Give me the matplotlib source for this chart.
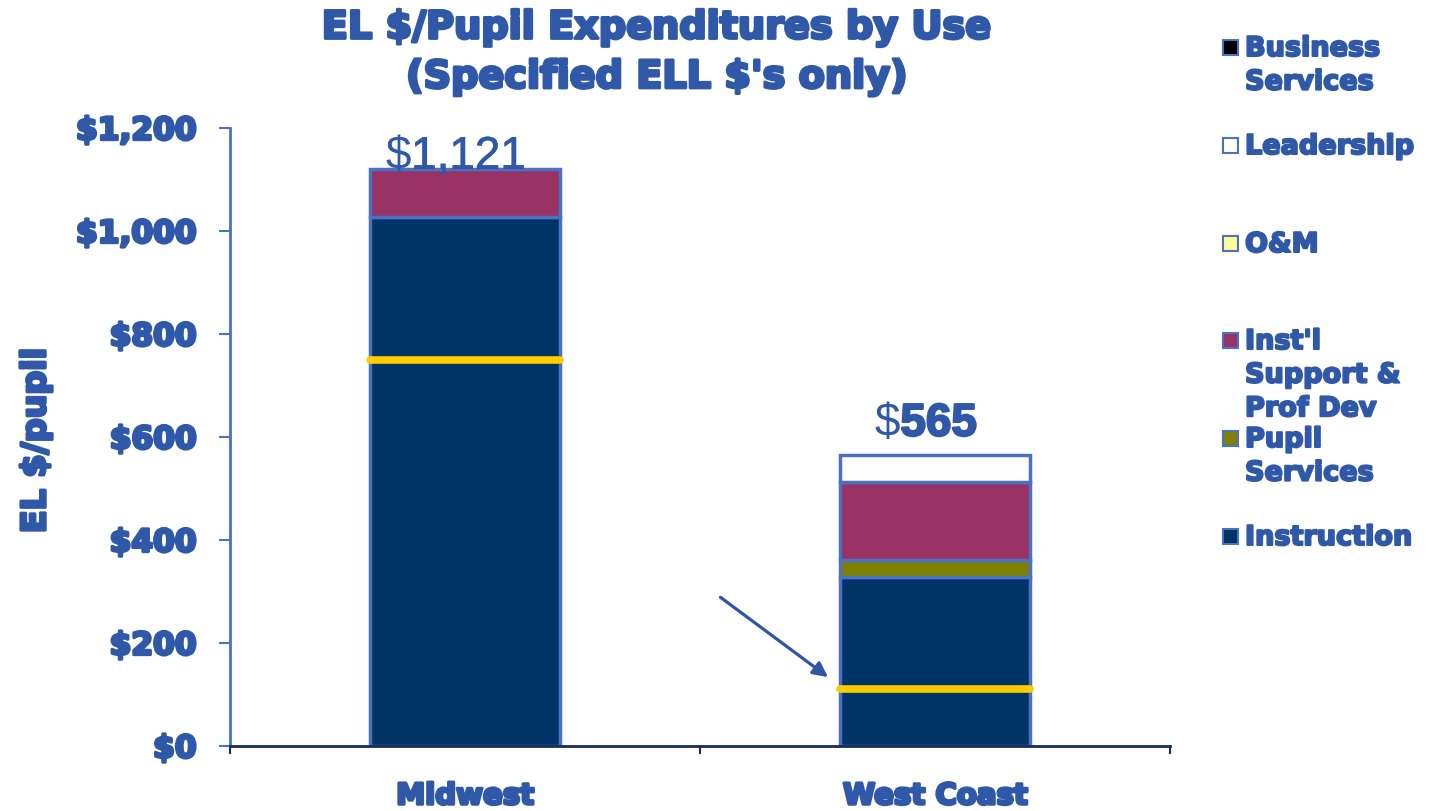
import matplotlib.pyplot as plt
import matplotlib.patheffects as pe
from matplotlib.patches import Rectangle
import numpy as np

categories = ['Midwest', 'West Coast']
series_names = ['Instruction', 'Pupil\nServices', "Inst'l\nSupport &\nProf Dev",
                'O&M', 'Leadership', 'Business\nServices']
series_colors = ['#003366', '#808000', '#993366', '#FFFF99', '#FFFFFF', '#000000']
# values bottom -> top, per category
instruction = [1027, 328]
pupil_services = [0, 33]
instl_support = [94, 152]
o_and_m = [0, 0]
leadership = [0, 52]
business = [0, 0]
totals = [1121, 565]
benchmark = [750, 111]
yticks = [0, 200, 400, 600, 800, 1000, 1200]

BLUE = '#2F58A8'
EDGE = '#4A72C0'
heavy = [pe.withStroke(linewidth=2.2, foreground=BLUE)]

fig = plt.figure(figsize=(14.29, 8.11), dpi=100)
ax = fig.add_axes([0.161, 0.080, 0.658, 0.762])

x = np.arange(len(categories))
width = 0.405
bottom = np.zeros(len(categories))
for vals, col in zip([instruction, pupil_services, instl_support, o_and_m, leadership, business],
                     series_colors):
    vals = np.array(vals, dtype=float)
    mask = vals > 0
    ax.bar(x[mask], vals[mask], width, bottom=bottom[mask], color=col,
           edgecolor=EDGE, linewidth=2.5, zorder=2)
    bottom += vals

# benchmark lines
for xi, b in zip(x, benchmark):
    ax.plot([xi - width / 2, xi + width / 2], [b, b], color='#FFCC00', lw=5.5,
            solid_capstyle='round', zorder=3)

# total labels: thin "$" then the number
lab_fs = 33
lab_lift = [0, 14]  # points above bar top
for xi, t, lift in zip(x, totals, lab_lift):
    s = f'{t:,}'
    w_digits = sum(0.278 if c == ',' else 0.556 for c in s) * lab_fs
    w_dollar = 0.556 * lab_fs
    split = (w_dollar - w_digits) / 2 - 0.02 * 470 * 0.72
    ax.annotate('$', (xi, t), xytext=(split, lift), textcoords='offset points',
                ha='right', va='baseline', fontsize=lab_fs, family='Liberation Sans',
                color=BLUE, zorder=4, annotation_clip=False)
    bold = t < 1000
    ax.annotate(s, (xi, t), xytext=(split, lift), textcoords='offset points',
                ha='left', va='baseline', fontsize=lab_fs, family='Liberation Sans',
                weight='bold' if bold else 'normal', color=BLUE, zorder=4,
                annotation_clip=False,
                path_effects=[pe.withStroke(linewidth=1.6 if bold else 0.5,
                                            foreground=BLUE)])

# arrow
ax.annotate('', xy=(0.772, 134), xytext=(0.543, 289),
            arrowprops=dict(arrowstyle='-|>', color='#2F55A4', lw=2.3,
                            mutation_scale=22, shrinkA=0, shrinkB=0))

ax.set_xlim(-0.5, 1.5)
ax.set_ylim(0, 1200)
ax.set_yticks(yticks)
ax.set_yticklabels([f'${v:,}' for v in yticks])
ax.set_xticks(x)
ax.set_xticklabels(categories)
ax.set_xticks([-0.5, 0.5, 1.5], minor=True)
ax.tick_params(axis='x', which='major', length=0, pad=26)
ax.tick_params(axis='x', which='minor', length=6, color='#1a2a5a', width=1.5)
ax.tick_params(axis='y', length=8, color=EDGE, width=1.5, pad=16)
for lab in ax.get_yticklabels():
    lab.set_fontweight('bold')
    lab.set_color(BLUE)
    lab.set_fontsize(22.5)
    lab.set_path_effects(heavy)
for lab in ax.get_xticklabels():
    lab.set_fontweight('bold')
    lab.set_color(BLUE)
    lab.set_fontsize(21)
    lab.set_path_effects(heavy)
ax.spines['top'].set_visible(False)
ax.spines['right'].set_visible(False)
ax.spines['left'].set_color(EDGE)
ax.spines['left'].set_linewidth(2)
ax.spines['bottom'].set_color('#1a2a5a')
ax.spines['bottom'].set_linewidth(2)

fig.text(0.025, 0.457, 'EL $/pupil', rotation=90, ha='center', va='center',
         fontsize=24, fontweight='bold', color=BLUE, path_effects=heavy)

fig.text(0.46, 0.965, 'EL $/Pupil Expenditures by Use', ha='center', va='center',
         fontsize=27.5, fontweight='bold', color=BLUE, path_effects=heavy)
fig.text(0.46, 0.904, "(Specified ELL $'s only)", ha='center', va='center',
         fontsize=27.5, fontweight='bold', color=BLUE, path_effects=heavy)

# legend, top entry first
leg_y = [47, 145, 243, 340, 438, 536]
for yy, name, col in zip(leg_y, series_names[::-1], series_colors[::-1]):
    fy = 1 - yy / 811
    fig.patches.append(Rectangle((1223 / 1429, fy - 8 / 811), 15 / 1429, 15 / 811,
                                 transform=fig.transFigure, facecolor=col,
                                 edgecolor=EDGE, linewidth=1.5))
    fig.text(1245 / 1429, fy + 11 / 811, name, ha='left', va='top', fontsize=19.5,
             fontweight='bold', color=BLUE, linespacing=1.38,
             path_effects=[pe.withStroke(linewidth=1.5, foreground=BLUE)])

fig.savefig('out.png', dpi=100)
